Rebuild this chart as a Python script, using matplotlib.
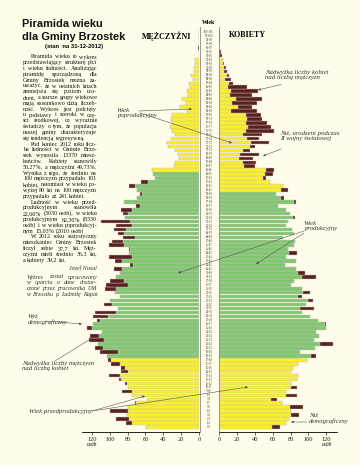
import matplotlib
matplotlib.use("Agg")
import matplotlib.pyplot as plt
from matplotlib.transforms import blended_transform_factory
import numpy as np

# population by single year of age (0..100)
ages = np.arange(0, 101)
men = [59, 82, 93, 81, 100, 79, 72, 58, 75, 86,
       80, 83, 90, 101, 87, 87, 98, 102, 103, 111,
       116, 113, 123, 122, 109, 125, 119, 114, 119, 117,
       91, 106, 100, 88, 94, 105, 104, 100, 93, 88,
       95, 77, 94, 101, 78, 78, 101, 97, 85, 91,
       95, 93, 110, 83, 85, 87, 71, 84, 69, 66,
       69, 78, 65, 49, 51, 53, 28, 27, 22, 23,
       27, 35, 36, 31, 27, 30, 32, 30, 31, 30,
       13, 21, 15, 19, 12, 13, 10, 11, 7, 9,
       6, 6, 5, 4, 0, 0, 1, 0, 0, 0, 0]
women = [68, 75, 78, 89, 80, 94, 70, 65, 87, 75,
         87, 81, 87, 88, 80, 83, 88, 98, 108, 91,
         107, 128, 106, 112, 109, 120, 120, 111, 102, 93,
         106, 97, 105, 93, 102, 93, 80, 84, 108, 96,
         86, 74, 86, 75, 87, 77, 84, 85, 72, 84,
         82, 75, 77, 85, 79, 75, 66, 86, 73, 64,
         77, 72, 57, 53, 60, 62, 40, 41, 38, 45,
         35, 40, 56, 45, 48, 62, 58, 54, 48, 47,
         42, 37, 43, 48, 37, 44, 31, 16, 13, 11,
         9, 8, 6, 5, 3, 2, 0, 0, 1, 1, 1]
age_labels = [f"{a}-{a + 1}" for a in ages]
ticks = [0, 20, 40, 60, 80, 100, 120]

BG = "#fffde9"
YELLOW = "#fbee2c"
GREEN = "#82c672"
BROWN = "#5b2020"
EDGE = "#c4c4bb"

men = np.array(men)
women = np.array(women)
common = np.minimum(men, women)
men_col = [YELLOW if (a < 18 or a >= 65) else GREEN for a in ages]
women_col = [YELLOW if (a < 18 or a >= 60) else GREEN for a in ages]

W, H = 360, 466
fig = plt.figure(figsize=(3.6, 4.66), dpi=100, facecolor=BG)

def box(x0, x1, ytop, ybot):
    return [x0 / W, 1 - ybot / H, (x1 - x0) / W, (ybot - ytop) / H]

ax_m = fig.add_axes(box(82, 199, 30, 432))
ax_w = fig.add_axes(box(219, 337, 30, 432))
ax_m.set_xlim(131, 0)
ax_w.set_xlim(0, 132)

for ax, vals, cols in [(ax_m, men, men_col), (ax_w, women, women_col)]:
    ax.set_facecolor("none")
    ax.barh(ages, common, height=0.92, color=cols, edgecolor=EDGE, linewidth=0.3)
    extra = np.where(vals > common, vals - common, 0)
    ax.barh(ages, extra, left=common, height=0.92, color=BROWN, edgecolor=EDGE, linewidth=0.3)
    ax.set_ylim(-1.27, 100.5)
    ax.set_yticks([])
    ax.set_xticks(ticks)
    ax.set_xticklabels([str(t) for t in ticks], family="Liberation Serif", fontsize=4.6)
    ax.tick_params(axis="x", length=2.5, width=0.5, pad=1.2, colors="#222222")
    for s in ["top", "left", "right"]:
        ax.spines[s].set_visible(False)
    ax.spines["bottom"].set_linewidth(0.6)

# age labels in the middle column
tr = blended_transform_factory(fig.transFigure, ax_m.transData)
for a, lab in zip(ages, age_labels):
    ax_m.text(209 / W, a, lab, transform=tr, ha="center", va="center",
              fontsize=2.1, family="Liberation Serif", color="#333333", clip_on=False)

# overlay in pixel coordinates for text and arrows
ov = fig.add_axes([0, 0, 1, 1], facecolor="none")
ov.set_xlim(0, W)
ov.set_ylim(H, 0)
ov.axis("off")

ov.plot([199.5, 199.5], [27, 432], color="#8a8a8a", lw=0.6)
ov.plot([218.5, 218.5], [27, 432], color="#8a8a8a", lw=0.6)
ov.text(209, 23, "Wiek", ha="center", va="center", fontsize=4.2, weight="bold",
        family="Liberation Serif")
ov.text(167, 36, "MĘŻCZYŹNI", ha="center", va="center", fontsize=5.8, weight="bold",
        family="Liberation Serif")
ov.text(247, 35, "KOBIETY", ha="center", va="center", fontsize=5.8, weight="bold",
        family="Liberation Serif")
ov.text(92, 444, "osób", ha="center", va="center", fontsize=4, style="italic",
        family="Liberation Serif")
ov.text(327, 444, "osób", ha="center", va="center", fontsize=4, style="italic",
        family="Liberation Serif")

# title
tfont = dict(family="Liberation Sans", weight="bold", color="#111111")
ov.text(22, 24, "Piramida wieku", fontsize=7.9, va="center", ha="left", **tfont)
ov.text(22, 36.5, "dla Gminy Brzostek", fontsize=7.9, va="center", ha="left", **tfont)
ov.text(74, 46.5, "(stan  na 31-12-2012)", fontsize=4.2, va="center", ha="center",
        family="Liberation Sans", weight="bold")

# justified body text
body = [
    ["Piramida wieku to wykres", "przedstawiający strukturę płci",
     "i wieku ludności. Analizując", "piramidę sporządzoną dla",
     "Gminy Brzostek można za-", "uważyć, że w ostatnich latach",
     "zmniejsza się poziom uro-", "dzeń, a starsze grupy wiekowe",
     "mają stosunkowo dużą liczeb-", "ność. Wykres jest podcięty",
     "u podstawy i szeroki w czę-", "ści środkowej, co wyraźnie",
     "świadczy o tym, że populacja", "naszej gminy charakteryzuje",
     "się tendencją regresywną."],
    ["Pod koniec 2012 roku licz-", "ba ludności w Gminie Brzo-",
     "stek wynosiła 13370 miesz-", "kańców. Kobiety stanowiły",
     "50,27%, a mężczyźni 49,73%.", "Wynika z tego, że średnio na",
     "100 mężczyzn przypadało 101", "kobiet, natomiast w wieku po-",
     "wyżej 80 lat na 100 mężczyzn", "przypadało aż 241 kobiet."],
    ["Ludność w wieku przed-", "produkcyjnym stanowiła",
     "22,66% (3030 osób), w wieku", "produkcyjnym 62,30% (8330",
     "osób) i w wieku poprodukcyj-", "nym 15,03% (2010 osób)"],
    ["W 2012 roku statystyczny", "mieszkaniec Gminy Brzostek",
     "liczył sobie 37,7 lat. Męż-", "czyźni mieli średnio 36,3 lat,",
     "a kobiety 39,2 lat."],
]
bfont = dict(family="Liberation Serif", fontsize=4.3, color="#111111", va="center")
renderer = fig.canvas.get_renderer()

def put_line(line, x0, x1, y, justify, **kw):
    words = line.split()
    ts = [ov.text(0, y, w, ha="left", **kw) for w in words]
    ws = [t.get_window_extent(renderer).width for t in ts]
    space = ov.text(0, y, "a", **kw)
    sp = space.get_window_extent(renderer).width * 0.55
    space.remove()
    if justify and len(words) > 1:
        gap = max((x1 - x0 - sum(ws)) / (len(words) - 1), 0.6)
    else:
        gap = sp
    x = x0
    for t, w in zip(ts, ws):
        t.set_x(x)
        x += w + gap

y = 57
step = 5.8
for para in body:
    for i, line in enumerate(para):
        last = i == len(para) - 1
        x0 = 31 if i == 0 else 23
        put_line(line, x0, 97, y, not last, **bfont)
        y += step

ifont = dict(family="Liberation Serif", style="italic", fontsize=4.3, color="#333333")
ov.text(97, 268, "Józef Nosal", ha="right", va="center", **ifont)
credit = ["Wykres został opracowany", "w oparciu o dane dostar-",
          "czone przez pracownika UM", "w Brzostku p. Ludmiłę Kapat"]
for i, line in enumerate(credit):
    put_line(line, 27, 97, 277 + i * 5.8, i < 3, va="center", **ifont)

# annotations
afont = dict(family="Liberation Serif", style="italic", fontsize=4.9, color="#333333",
             va="top", ha="left", linespacing=1.0)
arrow = dict(arrowstyle="-|>", color="#555555", lw=0.4, mutation_scale=3.5,
             shrinkA=0, shrinkB=0)

ov.text(117, 108, "Wiek\npoprodukcyjny", **afont)
ov.annotate("", xy=(192, 109), xytext=(139, 111), arrowprops=arrow)
ov.annotate("", xy=(232, 143), xytext=(140, 113), arrowprops=arrow)

ov.text(265, 70, "Nadwyżka liczby kobiet\nnad liczbą mężczyzn", **afont)
ov.annotate("", xy=(258, 90), xytext=(281, 84.5), arrowprops=arrow)

ov.text(280, 131, "Niż, urodzeni podczas\nII wojny światowej", **afont)
ov.annotate("", xy=(263, 156), xytext=(281, 149), arrowprops=arrow)

ov.text(304, 221, "Wiek\nprodukcyjny", **afont)
ov.annotate("", xy=(256, 264), xytext=(304, 233), arrowprops=arrow)
ov.annotate("", xy=(178, 273), xytext=(304, 231), arrowprops=arrow)

ov.text(28, 314, "Wyż\ndemograficzny", **afont)
ov.annotate("", xy=(82, 324), xytext=(45, 321), arrowprops=arrow)

ov.text(22, 361, "Nadwyżka liczby mężczyzn\nnad liczbą kobiet", **afont)
ov.annotate("", xy=(92, 338), xytext=(55, 361), arrowprops=arrow)

ov.text(29, 411, "Wiek przedprodukcyjny", **dict(afont, va="center"))
ov.annotate("", xy=(145, 396), xytext=(92, 411), arrowprops=arrow)
ov.annotate("", xy=(248, 387), xytext=(92, 411), arrowprops=arrow)

ov.text(309, 413, "Niż\ndemograficzny", **afont)
ov.annotate("", xy=(291, 422), xytext=(307, 422), arrowprops=arrow)

fig.savefig("out.png", dpi=100, facecolor=BG)
